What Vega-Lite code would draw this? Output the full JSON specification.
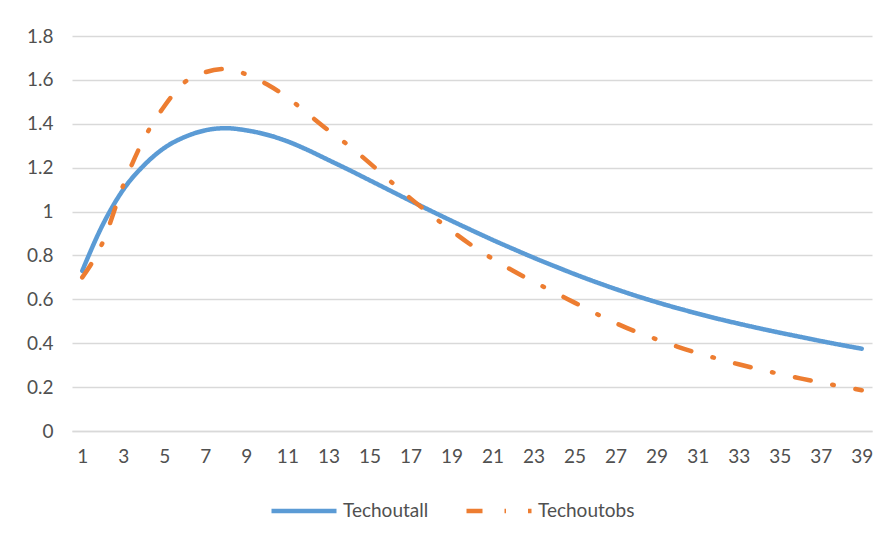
{
  "$schema": "https://vega.github.io/schema/vega-lite/v6.json",
  "width": 800,
  "height": 395,
  "autosize": "none",
  "padding": {"left": 72, "top": 36, "right": 15, "bottom": 109},
  "background": "white",
  "data": {
    "values": [
      {"t": 1, "Techoutall": 0.73, "Techoutobs": 0.70},
      {"t": 2, "Techoutall": 0.94, "Techoutobs": 0.86},
      {"t": 3, "Techoutall": 1.10, "Techoutobs": 1.12},
      {"t": 4, "Techoutall": 1.21, "Techoutobs": 1.33},
      {"t": 5, "Techoutall": 1.29, "Techoutobs": 1.48},
      {"t": 6, "Techoutall": 1.34, "Techoutobs": 1.59},
      {"t": 7, "Techoutall": 1.37, "Techoutobs": 1.635},
      {"t": 8, "Techoutall": 1.38, "Techoutobs": 1.65},
      {"t": 9, "Techoutall": 1.37, "Techoutobs": 1.625},
      {"t": 10, "Techoutall": 1.35, "Techoutobs": 1.58},
      {"t": 11, "Techoutall": 1.32, "Techoutobs": 1.52},
      {"t": 12, "Techoutall": 1.28, "Techoutobs": 1.445},
      {"t": 13, "Techoutall": 1.235, "Techoutobs": 1.37},
      {"t": 14, "Techoutall": 1.19, "Techoutobs": 1.30},
      {"t": 15, "Techoutall": 1.143, "Techoutobs": 1.222},
      {"t": 16, "Techoutall": 1.096, "Techoutobs": 1.14},
      {"t": 17, "Techoutall": 1.049, "Techoutobs": 1.06},
      {"t": 18, "Techoutall": 1.003, "Techoutobs": 0.985},
      {"t": 19, "Techoutall": 0.958, "Techoutobs": 0.913},
      {"t": 20, "Techoutall": 0.914, "Techoutobs": 0.845},
      {"t": 21, "Techoutall": 0.871, "Techoutobs": 0.785},
      {"t": 22, "Techoutall": 0.83, "Techoutobs": 0.73},
      {"t": 23, "Techoutall": 0.79, "Techoutobs": 0.68},
      {"t": 24, "Techoutall": 0.752, "Techoutobs": 0.633},
      {"t": 25, "Techoutall": 0.715, "Techoutobs": 0.585},
      {"t": 26, "Techoutall": 0.68, "Techoutobs": 0.537},
      {"t": 27, "Techoutall": 0.647, "Techoutobs": 0.492},
      {"t": 28, "Techoutall": 0.616, "Techoutobs": 0.452},
      {"t": 29, "Techoutall": 0.587, "Techoutobs": 0.418},
      {"t": 30, "Techoutall": 0.56, "Techoutobs": 0.385},
      {"t": 31, "Techoutall": 0.535, "Techoutobs": 0.355},
      {"t": 32, "Techoutall": 0.511, "Techoutobs": 0.329},
      {"t": 33, "Techoutall": 0.489, "Techoutobs": 0.304},
      {"t": 34, "Techoutall": 0.468, "Techoutobs": 0.281},
      {"t": 35, "Techoutall": 0.448, "Techoutobs": 0.26},
      {"t": 36, "Techoutall": 0.429, "Techoutobs": 0.24},
      {"t": 37, "Techoutall": 0.41, "Techoutobs": 0.221},
      {"t": 38, "Techoutall": 0.392, "Techoutobs": 0.203},
      {"t": 39, "Techoutall": 0.375, "Techoutobs": 0.186}
    ]
  },
  "transform": [
    {"fold": ["Techoutall", "Techoutobs"], "as": ["series", "value"]}
  ],
  "mark": {
    "type": "line",
    "strokeWidth": 4.5,
    "strokeCap": "round",
    "strokeJoin": "round",
    "interpolate": "monotone"
  },
  "encoding": {
    "x": {
      "field": "t",
      "type": "ordinal",
      "scale": {"type": "point", "padding": 0.5},
      "axis": {
        "values": [1, 3, 5, 7, 9, 11, 13, 15, 17, 19, 21, 23, 25, 27, 29, 31, 33, 35, 37, 39],
        "labelAngle": 0,
        "title": null,
        "ticks": false,
        "grid": false,
        "domainColor": "#d9d9d9",
        "domainWidth": 1.5,
        "labelPadding": 16
      }
    },
    "y": {
      "field": "value",
      "type": "quantitative",
      "scale": {"domain": [0, 1.8]},
      "axis": {
        "values": [0, 0.2, 0.4, 0.6, 0.8, 1, 1.2, 1.4, 1.6, 1.8],
        "format": ".1~f",
        "title": null,
        "domain": false,
        "ticks": false,
        "gridColor": "#d9d9d9",
        "gridWidth": 1.5,
        "labelPadding": 19
      }
    },
    "color": {
      "field": "series",
      "type": "nominal",
      "scale": {"domain": ["Techoutall", "Techoutobs"], "range": ["#5b9bd5", "#ed7d31"]},
      "legend": {"title": null}
    },
    "strokeDash": {
      "field": "series",
      "type": "nominal",
      "scale": {"domain": ["Techoutall", "Techoutobs"], "range": [[1, 0], [16, 22, 1.5, 22]]},
      "legend": {"title": null}
    }
  },
  "config": {
    "font": "Lato",
    "view": {"stroke": null},
    "axis": {
      "labelFont": "Lato",
      "labelFontSize": 19,
      "labelColor": "#505050"
    },
    "legend": {
      "orient": "none",
      "legendX": 197,
      "legendY": 440,
      "direction": "horizontal",
      "symbolType": "stroke",
      "symbolSize": 4225,
      "symbolStrokeWidth": 4.5,
      "labelFont": "Lato",
      "labelFontSize": 19,
      "labelColor": "#505050",
      "labelOffset": 4,
      "columnPadding": 28
    }
  }
}
